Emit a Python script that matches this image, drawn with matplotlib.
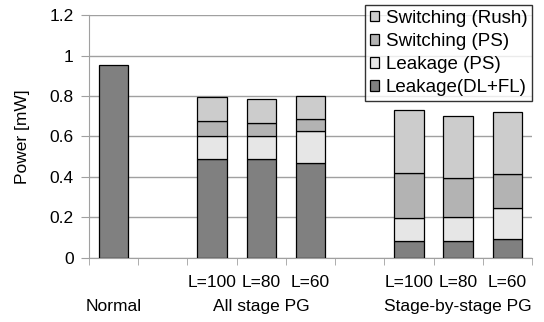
import numpy as np
import matplotlib.pyplot as plt

plt.rcParams['font.family'] = ['Liberation Sans', 'DejaVu Sans']

# slots: Normal, gap, All stage x3, gap, Stage-by-stage x3
bar_labels = ["", "", "L=100", "L=80", "L=60", "", "L=100", "L=80", "L=60"]
leak_dlfl = [0.954, 0, 0.488, 0.488, 0.469, 0, 0.084, 0.085, 0.092]
leak_ps = [0, 0, 0.112, 0.116, 0.158, 0, 0.112, 0.115, 0.156]
sw_ps = [0, 0, 0.078, 0.064, 0.061, 0, 0.226, 0.194, 0.169]
sw_rush = [0, 0, 0.117, 0.119, 0.112, 0, 0.309, 0.307, 0.306]
has_bar = [1, 0, 1, 1, 1, 0, 1, 1, 1]
groups = ["Normal", "All stage PG", "Stage-by-stage PG"]
group_pos = [0, 3, 7]

fs = 12.5
fig = plt.figure(figsize=(5.44, 3.22), dpi=100)
ax = fig.add_axes([0.1636, 0.1988, 0.8144, 0.7546])

x = np.arange(len(bar_labels))
w = 0.6
series = [
    (leak_dlfl, "#808080", "Leakage(DL+FL)"),
    (leak_ps, "#e6e6e6", "Leakage (PS)"),
    (sw_ps, "#b3b3b3", "Switching (PS)"),
    (sw_rush, "#cccccc", "Switching (Rush)"),
]
bottom = np.zeros(len(x))
handles = []
for vals, col, lab in series:
    v = np.array(vals)
    mask = np.array(has_bar, dtype=bool) & (v > 0)
    b = ax.bar(x[mask], v[mask], w, bottom=bottom[mask], color=col,
               edgecolor="black", linewidth=0.9, label=lab, zorder=3)
    handles.append(b)
    bottom += v

ax.set_xlim(-0.5, len(x) - 0.5)
ax.set_ylim(0, 1.2)
ax.set_yticks(np.arange(0, 1.21, 0.2))
ax.set_yticklabels(["0", "0.2", "0.4", "0.6", "0.8", "1", "1.2"])
ax.yaxis.grid(True, color="#a0a0a0", linewidth=1.0, zorder=0)
ax.set_ylabel("Power [mW]", fontsize=fs, labelpad=14)

ax.set_xticks([])
ax.set_xticks(np.arange(-0.5, len(x), 1.0), minor=True)
ax.tick_params(axis="x", which="minor", length=5, color="#a0a0a0")
ax.tick_params(axis="y", length=6, color="#a0a0a0", labelsize=fs, pad=5)

tr = ax.get_xaxis_transform()
for xi, lab in zip(x, bar_labels):
    if lab:
        ax.text(xi, -0.099, lab, ha="center", va="center", fontsize=fs,
                transform=tr)
for g, p in zip(groups, group_pos):
    ax.text(p, -0.198, g, ha="center", va="center", fontsize=fs,
            transform=tr)

for s in ["top", "right"]:
    ax.spines[s].set_visible(False)
for s in ["left", "bottom"]:
    ax.spines[s].set_color("#a0a0a0")

leg = ax.legend(handles[::-1], [h.get_label() for h in handles[::-1]],
                loc="upper right", bbox_to_anchor=(1.0, 1.041), fontsize=13.5,
                frameon=True, fancybox=False, edgecolor="black",
                handlelength=0.5, handleheight=0.5, handletextpad=0.35,
                labelspacing=0.33, borderpad=0.25, borderaxespad=0)
leg.get_frame().set_linewidth(1.0)
leg.set_zorder(5)

fig.savefig("out.png", dpi=100)
